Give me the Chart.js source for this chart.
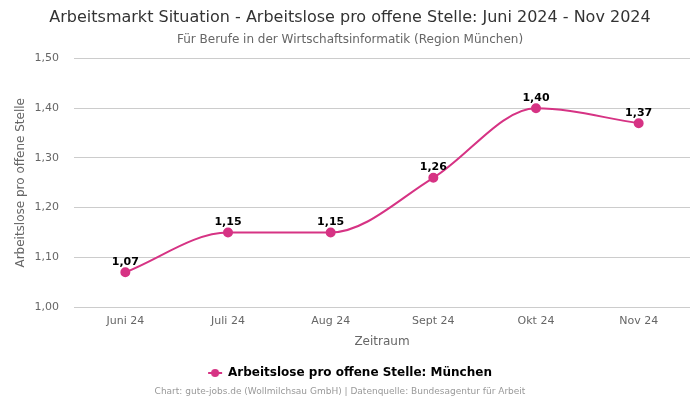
<!DOCTYPE html>
<html>
<head>
<meta charset="utf-8">
<script src="https://cdn.jsdelivr.net/npm/chart.js@4"></script>
<style>
    html, body { margin: 0; padding: 0; background: #fff; }
    #wrap { width: 700px; height: 400px; }
</style>
</head>
<body>
<div id="wrap"><canvas id="marketChart"></canvas></div>
<script>
const months = ['Juni 24', 'Juli 24', 'Aug 24', 'Sept 24', 'Okt 24', 'Nov 24'];
const ratioMuenchen = [1.07, 1.15, 1.15, 1.26, 1.40, 1.37];
const yTicks = [1.0, 1.1, 1.2, 1.3, 1.4, 1.5];

const lineColor = '#d63384';
const fmt = v => v.toFixed(2).replace('.', ',');

// legend marker: short line with a dot in the middle
function legendMarker() {
    const c = document.createElement('canvas');
    c.width = 16;
    c.height = 10;
    const g = c.getContext('2d');
    g.strokeStyle = lineColor;
    g.fillStyle = lineColor;
    g.lineWidth = 2;
    g.beginPath();
    g.moveTo(1, 5);
    g.lineTo(15, 5);
    g.stroke();
    g.beginPath();
    g.arc(8, 5, 4, 0, Math.PI * 2);
    g.fill();
    return c;
}

// labels above each point
const pointLabels = {
    id: 'pointLabels',
    afterDatasetsDraw(chart) {
        const ctx = chart.ctx;
        const meta = chart.getDatasetMeta(0);
        ctx.save();
        ctx.font = 'bold 11px "DejaVu Sans"';
        ctx.fillStyle = '#000';
        ctx.textAlign = 'center';
        ctx.textBaseline = 'bottom';
        meta.data.forEach((pt, i) => {
            ctx.fillText(fmt(chart.data.datasets[0].data[i]), pt.x, pt.y - 5);
        });
        ctx.restore();
    }
};

// source line at the bottom
const footerText = {
    id: 'footerText',
    afterDraw(chart) {
        const ctx = chart.ctx;
        ctx.save();
        ctx.font = '9px "DejaVu Sans"';
        ctx.fillStyle = '#999';
        ctx.textAlign = 'center';
        ctx.textBaseline = 'middle';
        ctx.fillText('Chart: gute-jobs.de (Wollmilchsau GmbH) | Datenquelle: Bundesagentur für Arbeit', 340, 392);
        ctx.restore();
    }
};

Chart.defaults.font.family = '"DejaVu Sans", sans-serif';
Chart.defaults.color = '#666';

new Chart(document.getElementById('marketChart'), {
    type: 'line',
    data: {
        labels: months,
        datasets: [{
            label: 'Arbeitslose pro offene Stelle: München',
            data: ratioMuenchen,
            borderColor: lineColor,
            backgroundColor: lineColor,
            borderWidth: 2,
            pointRadius: 4,
            pointHoverRadius: 5,
            cubicInterpolationMode: 'monotone',
            fill: false
        }]
    },
    options: {
        responsive: true,
        maintainAspectRatio: false,
        animation: false,
        layout: { padding: { left: 10, right: 10, top: 0, bottom: 11 } },
        plugins: {
            title: {
                display: true,
                text: 'Arbeitsmarkt Situation - Arbeitslose pro offene Stelle: Juni 2024 - Nov 2024',
                color: '#333',
                font: { size: 16, weight: 'normal' },
                padding: { top: 8, bottom: 5 }
            },
            subtitle: {
                display: true,
                text: 'Für Berufe in der Wirtschaftsinformatik (Region München)',
                color: '#666',
                font: { size: 12 },
                padding: { bottom: 12 }
            },
            legend: {
                display: true,
                position: 'bottom',
                labels: {
                    usePointStyle: true,
                    pointStyleWidth: 14,
                    color: '#333',
                    font: { size: 12, weight: 'bold' },
                    padding: 10,
                    generateLabels(chart) {
                        const ds = chart.data.datasets[0];
                        return [{
                            text: ds.label,
                            fillStyle: lineColor,
                            strokeStyle: lineColor,
                            lineWidth: 0,
                            pointStyle: legendMarker(),
                            datasetIndex: 0
                        }];
                    }
                }
            },
            tooltip: { enabled: false }
        },
        scales: {
            x: {
                offset: true,
                grid: { display: false, drawTicks: false },
                border: { display: false },
                ticks: { color: '#666', font: { size: 11, lineHeight: 1 }, padding: 9 },
                title: {
                    display: true,
                    text: 'Zeitraum',
                    color: '#666',
                    font: { size: 12, lineHeight: 1 },
                    padding: { top: 0, bottom: 9 }
                }
            },
            y: {
                min: 1.0,
                max: 1.5,
                afterBuildTicks(axis) {
                    axis.ticks = yTicks.map(v => ({ value: v }));
                },
                afterFit(axis) {
                    axis.width = 64;
                },
                grid: { color: '#ccc', drawTicks: false },
                border: { display: false },
                ticks: {
                    color: '#666',
                    font: { size: 11 },
                    padding: 15,
                    callback: v => fmt(v)
                },
                title: {
                    display: true,
                    text: 'Arbeitslose pro offene Stelle',
                    color: '#666',
                    font: { size: 12 },
                    padding: { top: 4, bottom: 4 }
                }
            }
        }
    },
    plugins: [pointLabels, footerText]
});
</script>
</body>
</html>
